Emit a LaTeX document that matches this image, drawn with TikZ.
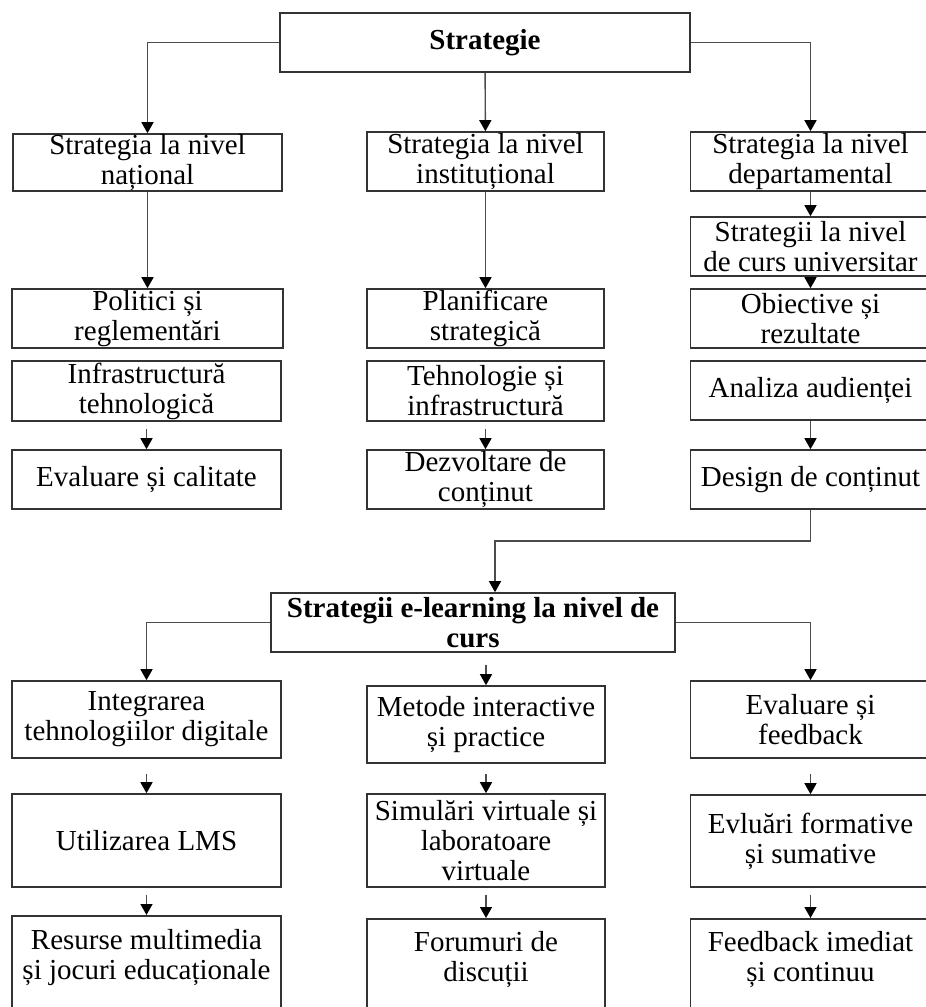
\documentclass[tikz,border=0pt]{standalone}
\usepackage{fontspec}
\setmainfont{Liberation Serif}
\usetikzlibrary{arrows.meta}

\begin{document}
\begin{tikzpicture}[x=1pt, y=-1pt,
  box/.style={draw=black!80, line width=1.6pt, align=center, inner sep=0pt,
              font=\fontsize{29}{30}\selectfont},
  head/.style={box, font=\fontsize{29}{30}\selectfont\bfseries},
  txt/.style={align=center, inner sep=0pt, font=\fontsize{29}{30}\selectfont},
  link/.style={color=black!70, line width=1.4pt,
               -{Triangle[width=12pt,length=11pt,color=black,fill=black]}},
  ]
  \useasboundingbox (0,0) rectangle (926,1007);
  \clip (0,0) rectangle (926,1007);

  % upper tree
  \node (str) [head, minimum width=410pt, minimum height=59pt] at (485,42.5) {Strategie};
  \node (nat) [box, minimum width=269pt, minimum height=57pt] at (147.5,162.5) {Strategia la nivel\\național};
  \node (ins) [box, minimum width=237pt, minimum height=59pt] at (485.5,161.5) {Strategia la nivel\\instituțional};
  \node (dep) [box, minimum width=240pt, minimum height=59pt] at (810.5,161.5) {Strategia la nivel\\departamental};
  \node (uni) [box, minimum width=240pt, minimum height=59pt] at (810.5,246.5) {Strategii la nivel\\de curs universitar};
  \node (obi) [box, minimum width=240pt, minimum height=59pt] at (810.5,318.5) {Obiective și\\rezultate};
  \node (aud) [box, minimum width=240pt, minimum height=59pt] at (810.5,390.5) {Analiza audienței};
  \node (des) [box, minimum width=240pt, minimum height=59pt] at (810.5,479.5) {Design de conținut};
  \node (pol) [box, minimum width=271pt, minimum height=59pt] at (147.5,318.5) {Politici și\\reglementări};
  \node (inf) [box, minimum width=269pt, minimum height=60pt] at (146.5,391) {Infrastructură\\tehnologică};
  \node (eva) [box, minimum width=269pt, minimum height=59pt] at (146.5,479.5) {Evaluare și calitate};
  \node (pla) [box, minimum width=237pt, minimum height=59pt] at (485.5,318.5) {Planificare\\strategică};
  \node (teh) [box, minimum width=237pt, minimum height=60pt] at (485.5,391) {Tehnologie și\\infrastructură};
  \node (dez) [box, minimum width=237pt, minimum height=59pt] at (485.5,479.5) {Dezvoltare de\\conținut};

  % lower tree
  \node (cur) [head, minimum width=404pt, minimum height=59pt] at (473,622.5) {Strategii e-learning la nivel de\\curs};
  \node (int) [box, minimum width=269pt, minimum height=77pt] at (146.5,719.5) {Integrarea\\tehnologiilor digitale};
  \node (lms) [box, minimum width=269pt, minimum height=93pt] at (146.5,840.5) {Utilizarea LMS};
  \node (res) [box, anchor=north, minimum width=269pt, minimum height=120pt] at (146.5,915) {};
  \node (resT) [txt] at (146.5,958) {Resurse multimedia\\și jocuri educaționale};
  \node (met) [box, minimum width=238pt, minimum height=77pt] at (486,724.5) {Metode interactive\\și practice};
  \node (sim) [box, minimum width=238pt, minimum height=93pt] at (486,840.5) {Simulări virtuale și\\laboratoare\\virtuale};
  \node (for) [box, anchor=north, minimum width=238pt, minimum height=120pt] at (486,918) {};
  \node (forT) [txt] at (486,960) {Forumuri de\\discuții};
  \node (evf) [box, minimum width=240pt, minimum height=77pt] at (810.5,719.5) {Evaluare și\\feedback};
  \node (evl) [box, minimum width=240pt, minimum height=92pt] at (810.5,841) {Evluări formative\\și sumative};
  \node (fee) [box, anchor=north, minimum width=240pt, minimum height=120pt] at (810.5,918) {};
  \node (feeT) [txt] at (810.5,960) {Feedback imediat\\și continuu};
  \coordinate (curM) at ([xshift=13pt]cur.south);

  \draw[link] (str.west) -| (nat.north);
  \draw[link] (str.east) -| (dep.north);
  \draw[link] (des.south) -- ++(0,31) -| ([xshift=22pt]cur.north);
  \draw[link] (cur.west) -| (int.north);
  \draw[link] (cur.east) -| (evf.north);
  \path[link] (str) edge (ins)
              (nat) edge (pol)
              (ins) edge (pla)
              (dep) edge (uni)
              (uni) edge (obi)
              (aud) edge (des)
              (inf) edge[shorten <=7pt] (eva)
              (teh) edge[shorten <=7pt] (dez)
              (curM) edge[shorten <=12pt] (met)
              (int) edge[shorten <=15pt] (lms)
              (lms) edge[shorten <=7pt] (res)
              (met) edge[shorten <=10pt] (sim)
              (sim) edge[shorten <=7pt] (for)
              (evf) edge[shorten <=15pt] (evl)
              (evl) edge[shorten <=7pt] (fee)
              ;
\end{tikzpicture}
\end{document}
